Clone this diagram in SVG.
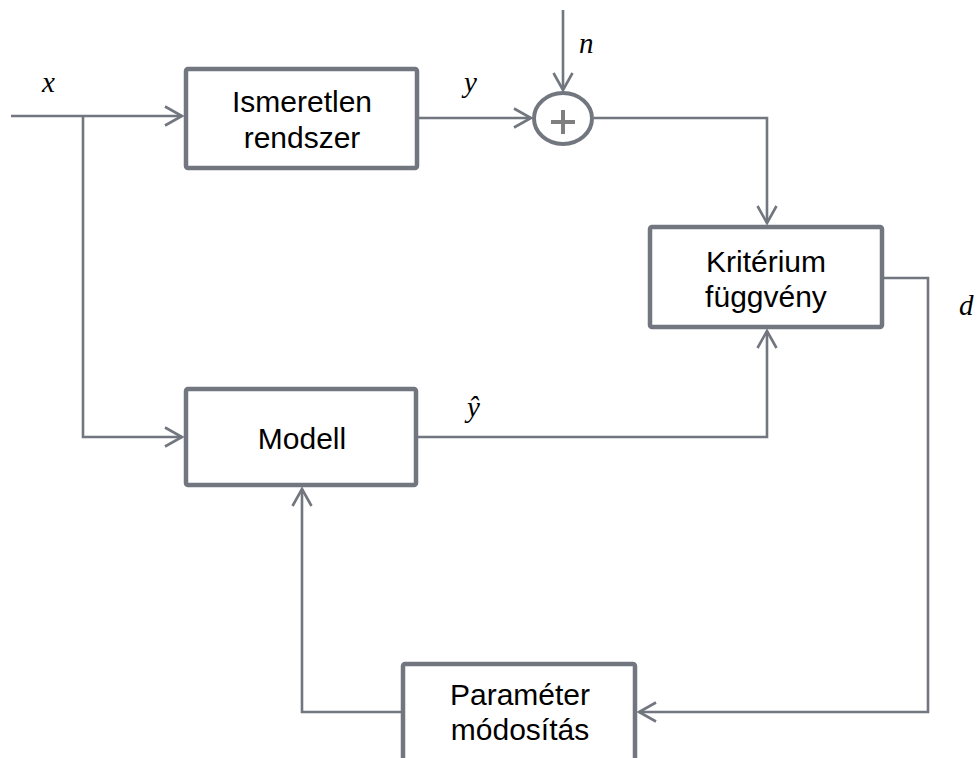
<svg xmlns="http://www.w3.org/2000/svg" width="977" height="758" viewBox="0 0 977 758">
  <style>
    .box { fill: #ffffff; stroke: #71767f; stroke-width: 4.5; }
    .wire { fill: none; stroke: #71767f; stroke-width: 2.6; }
    .lbl { font-family: "Liberation Sans", Arial, sans-serif; font-size: 30px; fill: #000000; text-anchor: middle; }
    .sig { font-family: "Liberation Serif", "Times New Roman", serif; font-style: italic; font-size: 29px; fill: #000000; }
  </style>
  <defs>
    <marker id="arr" markerUnits="userSpaceOnUse" markerWidth="24" markerHeight="24" viewBox="-20 -12 24 24" refX="0" refY="0" orient="auto">
      <path d="M-17,-9.5 L0,0 L-17,9.5" fill="none" stroke="#71767f" stroke-width="2.6"/>
    </marker>
  </defs>

  <rect width="977" height="758" fill="#ffffff"/>

  <!-- connectors -->
  <g id="connectors">
    <path class="wire" d="M11,116 H182" marker-end="url(#arr)"/>
    <path class="wire" d="M83,116 V437 H182" marker-end="url(#arr)"/>
    <path class="wire" d="M419,118 H531" marker-end="url(#arr)"/>
    <path class="wire" d="M563,10 V90" marker-end="url(#arr)"/>
    <path class="wire" d="M594,118 H767 V223" marker-end="url(#arr)"/>
    <path class="wire" d="M418,437 H767 V331" marker-end="url(#arr)"/>
    <path class="wire" d="M884,278 H928 V712 H639" marker-end="url(#arr)"/>
    <path class="wire" d="M401,712 H302 V489" marker-end="url(#arr)"/>
  </g>

  <!-- signal labels -->
  <g id="labels">
    <text class="sig" x="42" y="92">x</text>
    <text class="sig" x="464" y="92">y</text>
    <text class="sig" x="579" y="53">n</text>
    <text class="sig" x="959" y="315">d</text>
    <text class="sig" x="467" y="417">ŷ</text>
  </g>

  <g id="ismeretlen">
    <rect class="box" x="186" y="69" width="231" height="99" rx="2"/>
    <text class="lbl" x="302" y="112">Ismeretlen</text>
    <text class="lbl" x="302" y="148">rendszer</text>
  </g>

  <g id="osszegzo">
    <ellipse cx="563" cy="118.5" rx="29" ry="25.5" fill="#ffffff" stroke="#71767f" stroke-width="4"/>
    <path d="M551,122 H575 M563,110 V134" stroke="#7f7f7f" stroke-width="4" fill="none"/>
  </g>

  <g id="kriterium">
    <rect class="box" x="650" y="227" width="232" height="100" rx="2"/>
    <text class="lbl" x="766" y="272">Kritérium</text>
    <text class="lbl" x="766" y="307">függvény</text>
  </g>

  <g id="modell">
    <rect class="box" x="186" y="389" width="230" height="96" rx="2"/>
    <text class="lbl" x="302" y="449">Modell</text>
  </g>

  <g id="parameter">
    <rect class="box" x="403" y="664" width="232" height="120" rx="2"/>
    <text class="lbl" x="520" y="705">Paraméter</text>
    <text class="lbl" x="520" y="740">módosítás</text>
  </g>
</svg>
